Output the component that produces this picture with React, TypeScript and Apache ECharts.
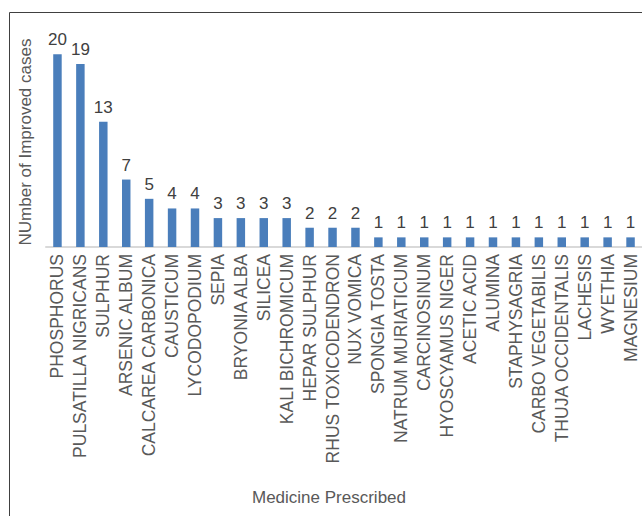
import React, { useEffect, useRef } from "react";
import * as echarts from "echarts";

const categories = [
  "PHOSPHORUS",
  "PULSATILLA NIGRICANS",
  "SULPHUR",
  "ARSENIC ALBUM",
  "CALCAREA CARBONICA",
  "CAUSTICUM",
  "LYCODOPODIUM",
  "SEPIA",
  "BRYONIA ALBA",
  "SILICEA",
  "KALI BICHROMICUM",
  "HEPAR SULPHUR",
  "RHUS TOXICODENDRON",
  "NUX VOMICA",
  "SPONGIA TOSTA",
  "NATRUM MURIATICUM",
  "CARCINOSINUM",
  "HYOSCYAMUS NIGER",
  "ACETIC ACID",
  "ALUMINA",
  "STAPHYSAGRIA",
  "CARBO VEGETABILIS",
  "THUJA OCCIDENTALIS",
  "LACHESIS",
  "WYETHIA",
  "MAGNESIUM",
];

const improvedCases = [20, 19, 13, 7, 5, 4, 4, 3, 3, 3, 3, 2, 2, 2, 1, 1, 1, 1, 1, 1, 1, 1, 1, 1, 1, 1];

const yAxisTitle = "NUmber of Improved cases";
const xAxisTitle = "Medicine Prescribed";

const FONT = "'Liberation Sans', Arial, sans-serif";

export default function App() {
  const ref = useRef<HTMLDivElement>(null);

  useEffect(() => {
    if (!ref.current) return;
    const chart = echarts.init(ref.current, undefined, { renderer: "svg" });
    chart.setOption({
      animation: false,
      backgroundColor: "#ffffff",
      grid: { left: 46, right: -5, top: 35, bottom: 269, containLabel: false },
      xAxis: {
        type: "category",
        data: categories,
        axisLine: { show: true, lineStyle: { color: "#d9d9d9", width: 2 } },
        axisTick: { show: false },
        axisLabel: {
          interval: 0,
          rotate: 90,
          margin: 7,
          fontSize: 17.5,
          color: "#595959",
          fontFamily: FONT,
        },
      },
      yAxis: {
        type: "value",
        min: 0,
        max: 22,
        show: false,
        splitLine: { show: false },
      },
      series: [
        {
          type: "bar",
          data: improvedCases,
          barWidth: "37%",
          itemStyle: { color: "#4a7ebb" },
          label: {
            show: true,
            position: "top",
            distance: 6,
            fontSize: 17,
            color: "#404040",
            fontFamily: FONT,
          },
        },
      ],
      graphic: [
        {
          type: "rect",
          shape: { x: 9.5, y: 12.5, width: 800, height: 700 },
          style: { fill: "none", stroke: "#404040", lineWidth: 1 },
          silent: true,
        },
        {
          type: "text",
          x: 25,
          y: 142,
          rotation: Math.PI / 2,
          style: {
            text: yAxisTitle,
            fontSize: 17,
            fill: "#595959",
            fontFamily: FONT,
            align: "center",
            verticalAlign: "middle",
          },
        },
        {
          type: "text",
          x: 329,
          y: 497,
          style: {
            text: xAxisTitle,
            fontSize: 17,
            fill: "#595959",
            fontFamily: FONT,
            align: "center",
            verticalAlign: "middle",
          },
        },
      ],
    });
    return () => chart.dispose();
  }, []);

  return (
    <div
      ref={ref}
      style={{ position: "fixed", left: 0, top: 0, width: 642, height: 516, overflow: "hidden" }}
    />
  );
}
